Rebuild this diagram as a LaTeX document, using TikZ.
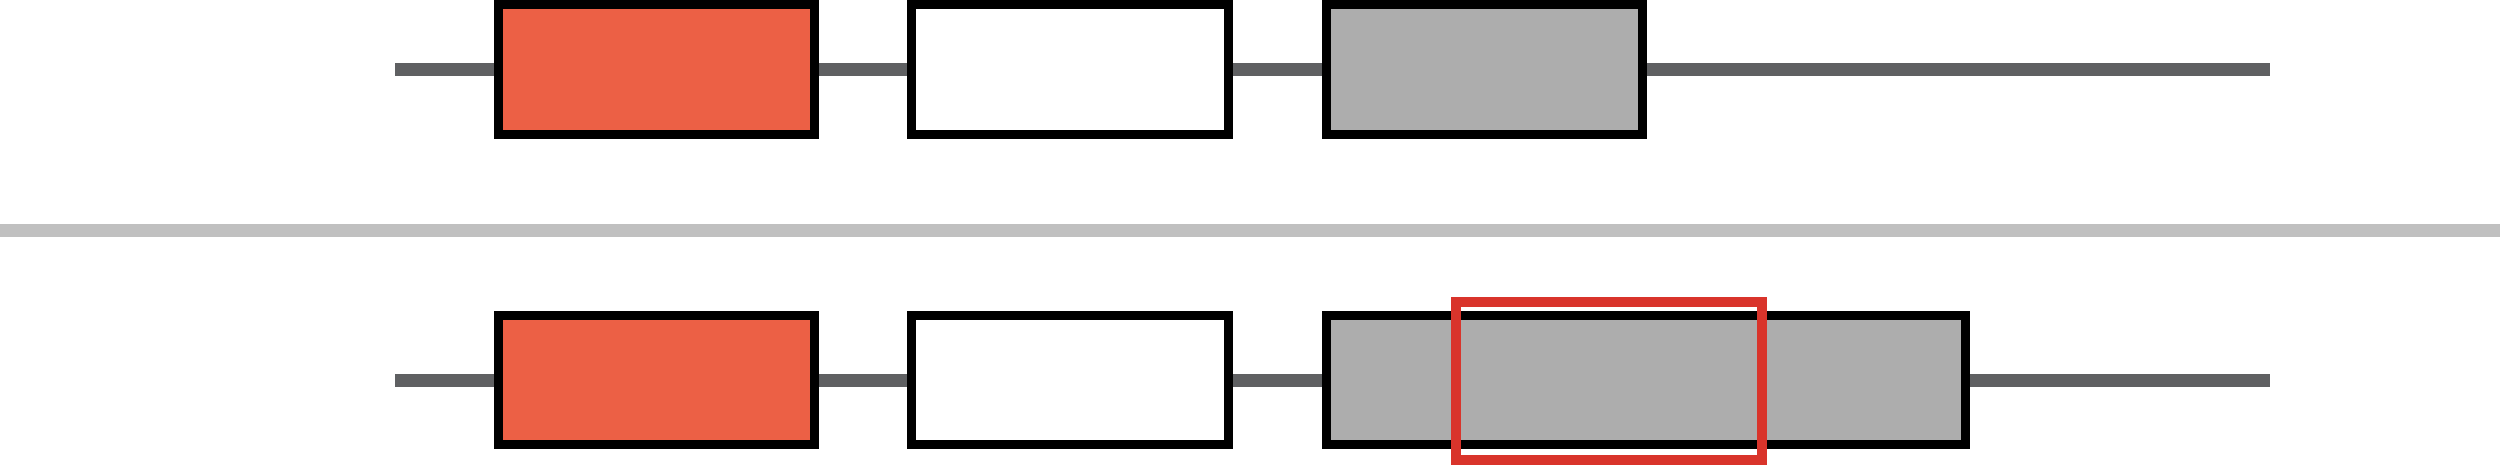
\documentclass[tikz,border=0pt]{standalone}
\usepackage{tikz}

\definecolor{exonorange}{RGB}{236,96,69}
\definecolor{exongray}{RGB}{173,173,173}
\definecolor{intron}{RGB}{95,96,98}
\definecolor{divider}{RGB}{192,192,192}
\definecolor{marker}{RGB}{217,52,43}

\tikzset{
  exon/.style={draw=black, line width=0.09cm, inner sep=0pt, minimum height=1.29cm},
  intronline/.style={intron, line width=0.13cm},
}

\begin{document}
\begin{tikzpicture}[x=0.01cm, y=-0.01cm]
        \useasboundingbox (0,0) rectangle (2500,466);
        % divider
        \draw[divider, line width=0.13cm] (0,230.5) -- (2500,230.5);
        % upper transcript
        \coordinate (s1) at (395,69.5);
        \coordinate (e1) at (2270,69.5);
        \node[exon, fill=exonorange, minimum width=3.16cm] (a1) at (656.5,69.5) {};
        \node[exon, fill=white, minimum width=3.17cm] (b1) at (1070,69.5) {};
        \node[exon, fill=exongray, minimum width=3.16cm] (c1) at (1484.5,69.5) {};
        \draw[intronline] (s1) -- (a1.west);
        \draw[intronline] (a1.east) -- (b1.west);
        \draw[intronline] (b1.east) -- (c1.west);
        \draw[intronline] (c1.east) -- (e1);
        % lower transcript
        \coordinate (s2) at (395,380);
        \coordinate (e2) at (2270,380);
        \node[exon, fill=exonorange, minimum width=3.16cm] (a2) at (656.5,380) {};
        \node[exon, fill=white, minimum width=3.17cm] (b2) at (1070,380) {};
        \node[exon, fill=exongray, minimum width=6.39cm] (c2) at (1646,380) {};
        \draw[intronline] (s2) -- (a2.west);
        \draw[intronline] (a2.east) -- (b2.west);
        \draw[intronline] (b2.east) -- (c2.west);
        \draw[intronline] (c2.east) -- (e2);
        \node[draw=marker, line width=0.10cm, inner sep=0pt, minimum width=3.06cm, minimum height=1.58cm] (m2) at (1609,381) {};
      \end{tikzpicture}
\end{document}
